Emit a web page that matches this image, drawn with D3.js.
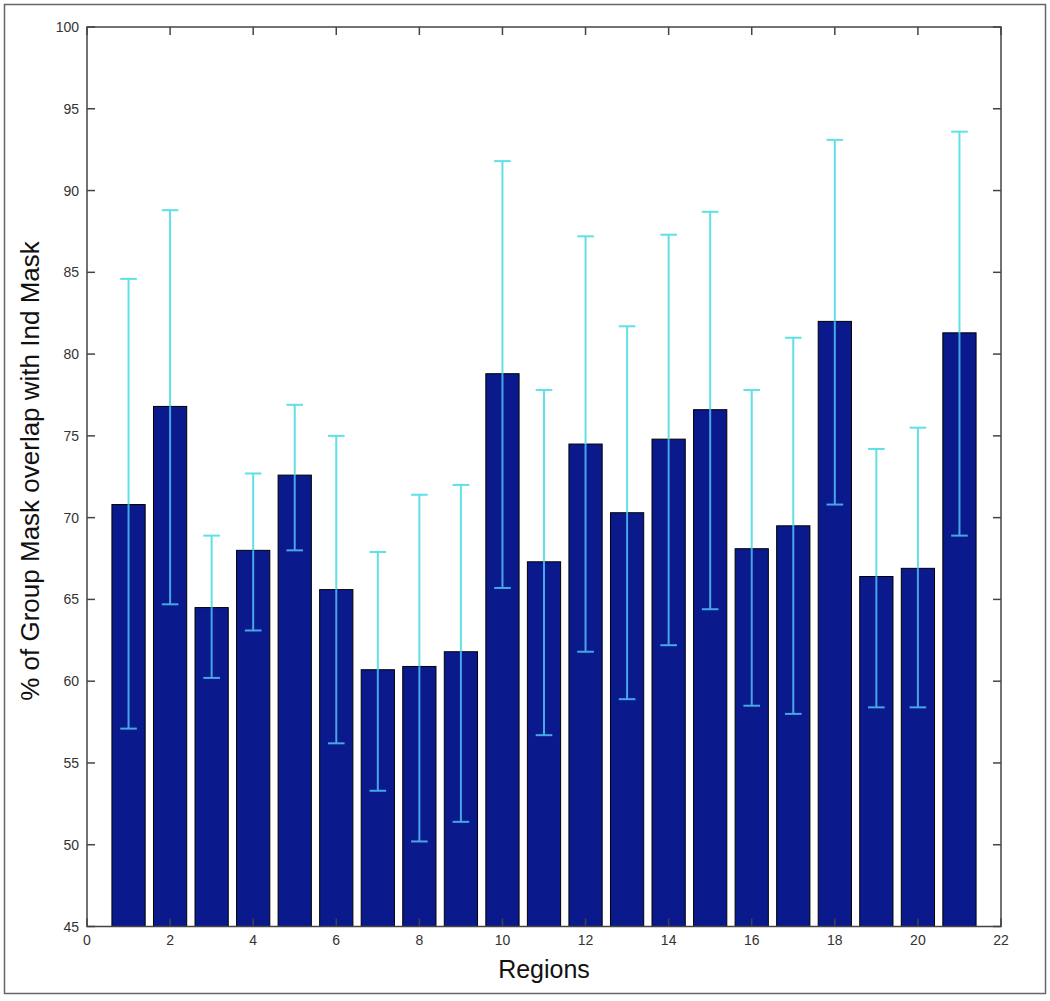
<!DOCTYPE html>
<html><head><meta charset="utf-8">
<script src="https://cdn.jsdelivr.net/npm/d3@7"></script>
<style>body{margin:0;background:#fff}svg{display:block}</style>
</head><body>
<script>
const regions = [1,2,3,4,5,6,7,8,9,10,11,12,13,14,15,16,17,18,19,20,21];
const means = [70.8,76.8,64.5,68.0,72.6,65.6,60.7,60.9,61.8,78.8,67.3,74.5,70.3,74.8,76.6,68.1,69.5,82.0,66.4,66.9,81.3];
const lowers = [57.1,64.7,60.2,63.1,68.0,56.2,53.3,50.2,51.4,65.7,56.7,61.8,58.9,62.2,64.4,58.5,58.0,70.8,58.4,58.4,68.9];
const uppers = [84.6,88.8,68.9,72.7,76.9,75.0,67.9,71.4,72.0,91.8,77.8,87.2,81.7,87.3,88.7,77.8,81.0,93.1,74.2,75.5,93.6];
const xTicks = [0,2,4,6,8,10,12,14,16,18,20,22];
const yTicks = [45,50,55,60,65,70,75,80,85,90,95,100];

const W=1050,H=1001;
const L=87,R=1001,T=27,B=926.5;
const svg=d3.select("body").append("svg").attr("width",W).attr("height",H);
svg.append("rect").attr("x",4.5).attr("y",4.5).attr("width",1041).attr("height",989)
  .attr("fill","none").attr("stroke","#666").attr("stroke-width",1.5);

const x=d3.scaleLinear().domain([0,22]).range([L,R]);
const y=d3.scaleLinear().domain([45,100]).range([B,T]);
const bw=x(0.8)-x(0), cw=x(0.4)-x(0);

const g=svg.append("g");
g.selectAll("rect.bar").data(regions).join("rect").attr("class","bar")
  .attr("x",(d)=>x(d)-bw/2).attr("width",bw)
  .attr("y",(d,i)=>y(means[i])).attr("height",(d,i)=>B-y(means[i]))
  .attr("fill","#0a1a8c").attr("stroke","#000").attr("stroke-width",1);

const cyan="#5fe0e6", inner="#46a6e6";
regions.forEach((d,i)=>{
  const cx=x(d);
  g.append("line").attr("x1",cx).attr("x2",cx).attr("y1",y(means[i])).attr("y2",y(uppers[i])).attr("stroke",cyan).attr("stroke-width",2);
  g.append("line").attr("x1",cx).attr("x2",cx).attr("y1",y(lowers[i])).attr("y2",y(means[i])).attr("stroke",inner).attr("stroke-width",2);
  g.append("line").attr("x1",cx-cw/2).attr("x2",cx+cw/2).attr("y1",y(uppers[i])).attr("y2",y(uppers[i])).attr("stroke",cyan).attr("stroke-width",2);
  g.append("line").attr("x1",cx-cw/2).attr("x2",cx+cw/2).attr("y1",y(lowers[i])).attr("y2",y(lowers[i])).attr("stroke",inner).attr("stroke-width",2);
});

// box
svg.append("rect").attr("x",L).attr("y",T).attr("width",R-L).attr("height",B-T)
  .attr("fill","none").attr("stroke","#444").attr("stroke-width",1.5);

const tl=8, font="Arial, 'Liberation Sans', sans-serif";
const ax=svg.append("g").attr("stroke","#444").attr("stroke-width",1.5);
xTicks.forEach(t=>{
  ax.append("line").attr("x1",x(t)).attr("x2",x(t)).attr("y1",B).attr("y2",B-tl);
  ax.append("line").attr("x1",x(t)).attr("x2",x(t)).attr("y1",T).attr("y2",T+tl);
});
yTicks.forEach(t=>{
  ax.append("line").attr("x1",L).attr("x2",L+tl).attr("y1",y(t)).attr("y2",y(t));
  ax.append("line").attr("x1",R).attr("x2",R-tl).attr("y1",y(t)).attr("y2",y(t));
});
svg.selectAll("text.xt").data(xTicks).join("text").attr("class","xt")
  .attr("x",d=>x(d)).attr("y",B+18).attr("text-anchor","middle")
  .attr("font-family",font).attr("font-size",14).attr("fill","#333").text(d=>d);
svg.selectAll("text.yt").data(yTicks).join("text").attr("class","yt")
  .attr("x",L-8).attr("y",d=>y(d)+5).attr("text-anchor","end")
  .attr("font-family",font).attr("font-size",14).attr("fill","#333").text(d=>d);

svg.append("text").attr("x",(L+R)/2).attr("y",978).attr("text-anchor","middle")
  .attr("font-family",font).attr("font-size",25).attr("fill","#111").text("Regions");
svg.append("text").attr("transform",`translate(39,471) rotate(-90)`).attr("text-anchor","middle")
  .attr("font-family",font).attr("font-size",26).attr("fill","#111").text("% of Group Mask overlap with Ind Mask");
</script>
</body></html>
